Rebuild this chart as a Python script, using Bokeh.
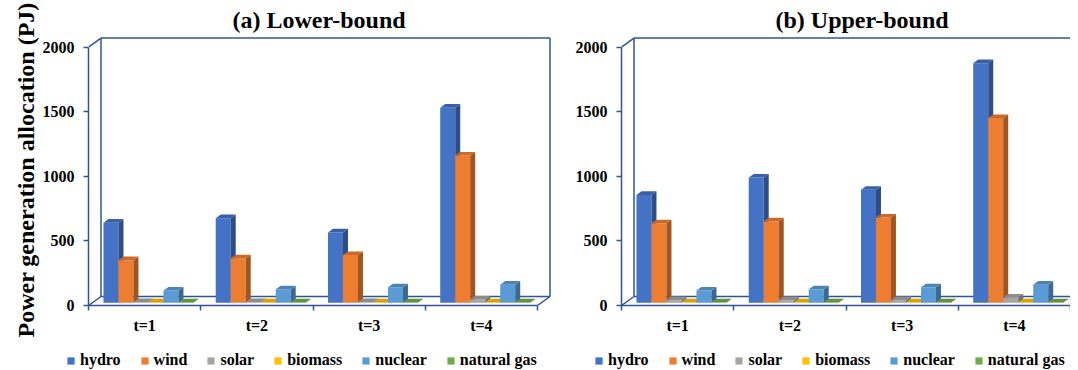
import numpy as np
from bokeh.plotting import figure
from bokeh.models import Range1d, FixedTicker, Legend, LegendItem, Title
from bokeh.layouts import row, column
from bokeh.embed import file_html
from bokeh.resources import INLINE

# ---------------- data ----------------
periods = ["t=1", "t=2", "t=3", "t=4"]
sources = ["hydro", "wind", "solar", "biomass", "nuclear", "natural gas"]

lower_hydro = [620, 655, 545, 1510]
lower_wind = [330, 345, 370, 1140]
lower_solar = [5, 5, 5, 25]
lower_biomass = [3, 3, 3, 3]
lower_nuclear = [95, 105, 120, 140]
lower_gas = [3, 3, 3, 3]

upper_hydro = [835, 970, 875, 1855]
upper_wind = [615, 630, 660, 1430]
upper_solar = [20, 20, 20, 40]
upper_biomass = [3, 3, 3, 3]
upper_nuclear = [95, 105, 120, 140]
upper_gas = [3, 3, 3, 3]

y_ticks = [0, 500, 1000, 1500, 2000]
y_title = "Power generation allocation (PJ)"
colors = ["#4472C4", "#ED7D31", "#A5A5A5", "#FFC000", "#5B9BD5", "#70AD47"]

# ---------------- geometry / style ----------------
FONT = "Liberation Serif"
FRAME_C = "#2F5597"
PXX = 112.25          # px per category
PXY = 0.1292          # px per value unit
TOP_B = 35
FRAME_H = 270
BOT_B = 35
LEG_H = 30
DX = 12.5 / PXX
DY = 9.0 / PXY
BAR_W = 0.1336
GROUP_START = 0.1
FRONT = 0.3
DEPTH = 0.4


def shade(hexc, f):
    hexc = hexc.lstrip("#")
    r, g, b = (int(hexc[i:i + 2], 16) for i in (0, 2, 4))
    return "#%02x%02x%02x" % (int(r * f), int(g * f), int(b * f))


def make_panel(title, series, mbl, mbr, frame_w, title_off, ylabel=None):
    n = len(periods)
    top = y_ticks[-1]
    x_end = frame_w / PXX
    p = figure(width=mbl + frame_w + mbr, height=TOP_B + FRAME_H + BOT_B,
               x_range=Range1d(0, x_end), y_range=Range1d(0, FRAME_H / PXY),
               output_backend="svg", toolbar_location=None,
               min_border_left=mbl, min_border_right=mbr, min_border_top=TOP_B,
               min_border_bottom=BOT_B, outline_line_color=None,
               background_fill_color="white", border_fill_color="white")
    p.xgrid.visible = False
    p.ygrid.visible = False

    p.title.text = title
    p.title.text_font = FONT
    p.title.text_font_style = "bold"
    p.title.text_font_size = "24px"
    p.title.text_color = "black"
    p.title.align = "left"
    p.title.offset = title_off
    p.title.standoff = 5

    ya = p.yaxis[0]
    ya.axis_label = None
    ya.ticker = FixedTicker(ticks=y_ticks, minor_ticks=[])
    ya.bounds = (0, top)
    ya.axis_line_color = FRAME_C
    ya.axis_line_width = 1.5
    ya.major_tick_line_color = FRAME_C
    ya.major_tick_line_width = 1.5
    ya.major_tick_out = 5
    ya.major_tick_in = 0
    ya.major_label_standoff = 9
    ya.major_label_text_font = FONT
    ya.major_label_text_font_style = "bold"
    ya.major_label_text_font_size = "16px"
    ya.major_label_text_color = "black"
    if ylabel:
        p.add_layout(Title(text=ylabel, align="left", offset=-32, standoff=2,
                           text_font=FONT, text_font_style="bold",
                           text_font_size="24px", text_color="black"), "left")

    centers = [i + 0.5 for i in range(n)]
    xa = p.xaxis[0]
    xa.axis_label = None
    xa.ticker = FixedTicker(ticks=centers, minor_ticks=list(range(n + 1)))
    xa.major_label_overrides = {c: lab for c, lab in zip(centers, periods)}
    xa.bounds = (0, n)
    xa.axis_line_color = FRAME_C
    xa.axis_line_width = 1.5
    xa.major_tick_line_color = None
    xa.major_tick_out = 0
    xa.major_tick_in = 0
    xa.minor_tick_line_color = FRAME_C
    xa.minor_tick_line_width = 1.5
    xa.minor_tick_out = 5
    xa.minor_tick_in = 0
    xa.major_label_standoff = 6
    xa.major_label_text_font = FONT
    xa.major_label_text_font_style = "bold"
    xa.major_label_text_font_size = "16px"
    xa.major_label_text_color = "black"

    x0s = [0, DX, DX, n + DX, 0, DX, n]
    y0s = [top, DY, top + DY, DY, 0, DY, 0]
    x1s = [DX, DX, n + DX, n + DX, DX, n + DX, n + DX]
    y1s = [top + DY, top + DY, top + DY, top + DY, DY, DY, DY]
    p.segment(x0=x0s, y0=y0s, x1=x1s, y1=y1s, line_color=FRAME_C, line_width=1.5)

    cats = np.arange(n)
    bdx, bdy = DEPTH * DX, DEPTH * DY
    base = FRONT * DY
    for j, (name, vals, col) in enumerate(zip(sources, series, colors)):
        v = np.array(vals, dtype=float)
        x0 = cats + GROUP_START + j * BAR_W + FRONT * DX
        x1 = x0 + BAR_W
        y1 = base + v
        p.quad(left=x0, right=x1, bottom=base, top=y1,
               fill_color=col, line_color=None)
        sxs = [[a, a + bdx, a + bdx, a] for a in x1]
        sys_ = [[base, base + bdy, t + bdy, t] for t in y1]
        p.patches(xs=sxs, ys=sys_, fill_color=shade(col, 0.68), line_color=None)
        txs = [[a, b, b + bdx, a + bdx] for a, b in zip(x0, x1)]
        tys = [[t, t, t + bdy, t + bdy] for t in y1]
        p.patches(xs=txs, ys=tys, fill_color=shade(col, 0.85), line_color=None)
    return p


def make_legend(width, legend_x):
    lf = figure(width=width, height=LEG_H, x_range=Range1d(0, 1), y_range=Range1d(0, 1),
                x_axis_location=None, y_axis_location=None,
                output_backend="svg", toolbar_location=None,
                min_border=0, outline_line_color=None,
                background_fill_color="white", border_fill_color="white")
    lf.xgrid.visible = False
    lf.ygrid.visible = False
    items = []
    for name, col in zip(sources, colors):
        # legend proxy: a swatch placed outside the visible range
        r = lf.quad(left=[-3], right=[-2], bottom=[-3], top=[-2],
                    fill_color=col, line_color=None)
        items.append(LegendItem(label=name, renderers=[r]))
    leg = Legend(items=items, orientation="horizontal", location=(legend_x, 1),
                 glyph_width=9, glyph_height=9, label_standoff=5, spacing=19,
                 padding=0, margin=0, border_line_color=None,
                 background_fill_alpha=0,
                 label_text_font=FONT, label_text_font_style="bold",
                 label_text_font_size="16px", label_text_color="black",
                 label_height=18)
    lf.add_layout(leg)
    return lf


p1 = make_panel("(a) Lower-bound",
                [lower_hydro, lower_wind, lower_solar, lower_biomass, lower_nuclear, lower_gas],
                mbl=88, mbr=8, frame_w=464, title_off=144, ylabel=y_title)
p2 = make_panel("(b) Upper-bound",
                [upper_hydro, upper_wind, upper_solar, upper_biomass, upper_nuclear, upper_gas],
                mbl=61, mbr=0, frame_w=449, title_off=154)
l1 = make_legend(88 + 464 + 8, 66)
l2 = make_legend(61 + 449, 34)

layout = column(row(p1, p2), row(l1, l2))
open("out.html", "w").write(file_html(layout, INLINE))
